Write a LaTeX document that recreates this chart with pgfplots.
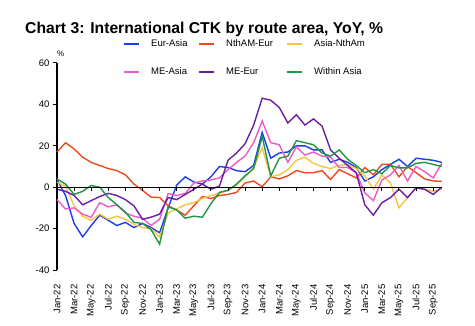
\documentclass[border=0pt]{standalone}
\usepackage{fontspec}
\setmainfont{Liberation Sans}
\usepackage{pgfplots}
\pgfplotsset{compat=1.18}
\definecolor{cBlue}{HTML}{1C3FE4}
\definecolor{cRed}{HTML}{F0481F}
\definecolor{cYellow}{HTML}{F6C443}
\definecolor{cPink}{HTML}{EE5BC6}
\definecolor{cPurple}{HTML}{6A1EA6}
\definecolor{cGreen}{HTML}{1E9646}
\pgfplotsset{
  mylegend/.style={
    legend columns=3,
    legend cell align=left,
    legend style={anchor=west, draw=none, fill=none, inner sep=0pt,
      font=\fontsize{9.5}{10}\selectfont,
      nodes={inner sep=0pt},
      /tikz/every odd column/.append style={column sep=11pt},
      /tikz/column 2/.style={text width=47pt},
      /tikz/column 4/.style={text width=60pt}},
  },
  mybase/.style={
    at={(57pt,55pt)}, anchor=south west, scale only axis,
    width=384.75pt, height=207pt,
    xmin=0, xmax=45, ymin=-40, ymax=60,
    every axis plot/.append style={line width=1.4pt, mark=none},
    clip=false,
  }
}
\begin{document}
\begin{tikzpicture}
\path[use as bounding box] (0pt,0pt) rectangle (475pt,325pt);
\node[anchor=base west, inner sep=0pt, font=\bfseries\fontsize{15.7}{17}\selectfont] at (25pt,291.5pt) {Chart 3: International CTK by route area, YoY, \%};
\begin{axis}[
  mybase,
  axis y line*=left, axis x line*=bottom,
  axis line style={-},
  x axis line style={draw=none},
  y axis line style={-, black, line width=1.2pt},
  xtick={0,2,...,44},
  xticklabels={Jan-22,Mar-22,May-22,Jul-22,Sep-22,Nov-22,Jan-23,Mar-23,May-23,Jul-23,Sep-23,Nov-23,Jan-24,Mar-24,May-24,Jul-24,Sep-24,Nov-24,Jan-25,Mar-25,May-25,Jul-25,Sep-25},
  x tick style={draw=none},
  xticklabel style={rotate=90, anchor=east, font=\fontsize{9.5}{10}\selectfont, xshift=-7pt},
  ytick={-40,-20,0,20,40,60},
  yticklabels={-40,-20,0,20,40,60},
  yticklabel style={font=\fontsize{9.5}{10}\selectfont},
  tick align=outside,
  y tick style={black, line width=1pt},
  major tick length=4pt,
  mylegend,
  legend image code/.code={\draw[#1, line width=2pt] (0pt,0pt) -- (15pt,0pt);},
  legend style={at={(0.1715,1.0932)}},
]
\addplot[cBlue] coordinates {(0,3.7)(1,-4)(2,-17.5)(3,-24)(4,-18.5)(5,-13.5)(6,-16)(7,-18.5)(8,-17)(9,-19.5)(10,-17.5)(11,-19.5)(12,-22)(13,-10)(14,1)(15,5)(16,2.5)(17,1.5)(18,5)(19,10)(20,9.5)(21,8)(22,7.5)(23,10.5)(24,26.5)(25,14)(26,16.5)(27,17)(28,20)(29,20)(30,18)(31,18)(32,12)(33,13.5)(34,12)(35,9.5)(36,3)(37,5)(38,8.5)(39,11)(40,13.5)(41,10)(42,14)(43,13.5)(44,13)(45,12)};
\addlegendentry{Eur-Asia}
\addplot[cRed] coordinates {(0,17)(1,21.5)(2,18.5)(3,14.5)(4,12)(5,10.5)(6,9)(7,8)(8,6)(9,1.5)(10,-1.5)(11,-4.8)(12,-5)(13,-9)(14,-11)(15,-13.5)(16,-9)(17,-4.5)(18,-5.5)(19,-4)(20,-3.5)(21,-2.5)(22,2)(23,3)(24,0.2)(25,5)(26,4)(27,5.5)(28,8)(29,7)(30,7)(31,8)(32,3.7)(33,8.5)(34,6.5)(35,4.5)(36,9.5)(37,6)(38,11)(39,11)(40,5)(41,10)(42,7)(43,4)(44,3)(45,2.8)};
\addlegendentry{NthAM-Eur}
\addplot[cYellow] coordinates {(0,2.4)(1,0.5)(2,-9)(3,-14)(4,-16)(5,-13)(6,-15.5)(7,-14)(8,-15.5)(9,-18)(10,-19.5)(11,-20)(12,-24)(13,-12.5)(14,-10.5)(15,-8.5)(16,-7.5)(17,-5.5)(18,-4)(19,-3)(20,-1.5)(21,1)(22,5)(23,9.5)(24,19)(25,5)(26,6)(27,8.5)(28,13)(29,14.5)(30,11.5)(31,10)(32,9)(33,10.5)(34,11)(35,9)(36,5.5)(37,-1)(38,6)(39,2)(40,-10)(41,-5)(42,-0.3)(43,-1)(44,-2)(45,-1)};
\addlegendentry{Asia-NthAm}
\node[anchor=south west, inner sep=0pt, font=\fontsize{8}{9}\selectfont] at (rel axis cs:0,1) [yshift=6pt] {\%};
\end{axis}
\begin{axis}[
  mybase,
  hide axis,
  mylegend,
  legend image code/.code={\draw[#1, line width=2pt] (0pt,0pt) -- (15pt,0pt);},
  legend style={at={(0.1715,0.9565)}},
]
\addplot[cPink] coordinates {(0,-6)(1,-10.5)(2,-10)(3,-13)(4,-14.5)(5,-7.5)(6,-9.5)(7,-8.5)(8,-12.5)(9,-14)(10,-15)(11,-18.5)(12,-15.5)(13,-3)(14,-4)(15,-3)(16,2)(17,3)(18,3.5)(19,4.5)(20,8.5)(21,12)(22,15)(23,21.5)(24,32)(25,21.5)(26,20.5)(27,12)(28,19.5)(29,15.5)(30,17)(31,15)(32,14.5)(33,9.5)(34,9.5)(35,7)(36,-2.7)(37,-6.5)(38,3.5)(39,6)(40,10.5)(41,3)(42,10)(43,7.5)(44,4.5)(45,11.5)};
\addlegendentry{ME-Asia}
\addplot[cPurple] coordinates {(0,-1)(1,-2)(2,-4)(3,-8.5)(4,-6.5)(5,-4.5)(6,-3)(7,-4)(8,-6)(9,-9)(10,-15.5)(11,-14.5)(12,-13)(13,-5)(14,-6)(15,-3.5)(16,-1)(17,1.5)(18,-1)(19,0.5)(20,13)(21,16.5)(22,21)(23,30)(24,43)(25,42)(26,38.5)(27,31)(28,35)(29,30)(30,33)(31,29.5)(32,18)(33,14)(34,10.5)(35,7)(36,-8.5)(37,-13.5)(38,-7.5)(39,-5)(40,-1)(41,-5)(42,-0.3)(43,-1)(44,-3.5)(45,0)};
\addlegendentry{ME-Eur}
\addplot[cGreen] coordinates {(0,4)(1,1.5)(2,-3.5)(3,-2)(4,0.8)(5,0)(6,-5)(7,-8.5)(8,-12)(9,-17)(10,-17.5)(11,-20.5)(12,-27.5)(13,-9.5)(14,-11)(15,-15)(16,-14)(17,-14.5)(18,-8)(19,-2.5)(20,-1.5)(21,1.5)(22,5.5)(23,9)(24,24.5)(25,5.5)(26,14)(27,15)(28,22.5)(29,21.5)(30,20.5)(31,16.5)(32,15)(33,18)(34,13.5)(35,10.5)(36,7)(37,8.5)(38,6.5)(39,10.5)(40,9.3)(41,9.3)(42,11.5)(43,12)(44,11)(45,10)};
\addlegendentry{Within Asia}
\end{axis}
\begin{axis}[
  mybase,
  axis x line=middle, axis y line=none,
  axis line style={-, black, line width=1.2pt},
  xtick={0,2,...,44}, xticklabels={},
  ytick=\empty,
  xtick align=outside,
  x tick style={black, line width=1pt},
  major tick length=4pt,
]
\end{axis}
\end{tikzpicture}
\end{document}
